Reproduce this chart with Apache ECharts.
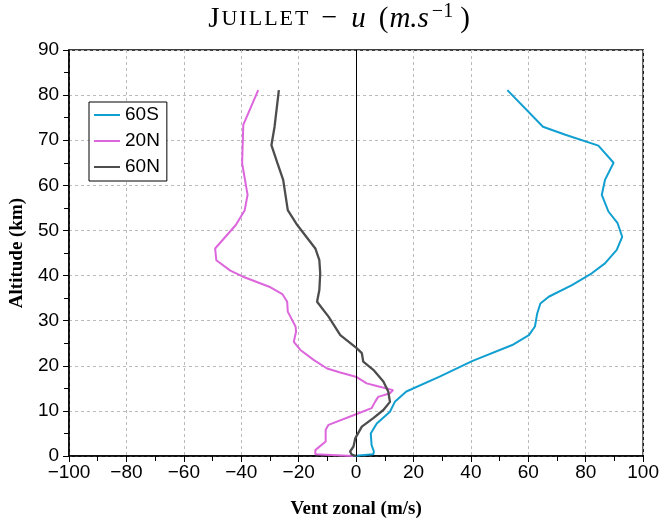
<!DOCTYPE html>
<html>
<head>
<meta charset="utf-8">
<script src="https://cdn.jsdelivr.net/npm/echarts@6/dist/echarts.min.js"></script>
<style>html,body{margin:0;padding:0;background:#fff;}#c{width:662px;height:524px;}</style>
</head>
<body>
<div id="c"></div>
<script>
// Series names
const seriesNames = ['60S', '20N', '60N'];
// 60S: altitude (km) and zonal wind (m/s)
const alt60S = [0, 0.4, 1.0, 2.4, 5.0, 7.2, 9.8, 12.0, 14.3, 17.6, 21.1, 24.6, 26.8, 28.7, 31.6, 33.8, 35.3, 37.9, 40.5, 42.7, 45.7, 48.6, 51.6, 54.2, 57.9, 61.2, 65.0, 68.8, 71.2, 73.0, 81.1];
const u60S   = [-1, 6.0, 6.2, 5.4, 5.1, 7.2, 11.8, 13.5, 17.5, 29.1, 40.6, 54.4, 60.2, 62.3, 63.1, 64.2, 67.1, 75.2, 82.1, 86.7, 90.8, 92.7, 91.1, 87.9, 85.6, 86.7, 89.7, 84.4, 72.9, 65.1, 52.7];
// 20N
const alt20N = [0, 0.4, 1.3, 3.2, 5.8, 6.9, 9.3, 10.6, 12.0, 13.1, 13.9, 14.6, 15.5, 16.1, 17.5, 18.5, 19.4, 21.3, 23.5, 25.3, 27.6, 28.7, 32.0, 34.2, 35.9, 37.4, 39.8, 41.1, 43.4, 46.0, 51.2, 54.5, 57.9, 64.9, 73.4, 81.1];
const u20N   = [-1, -14.2, -14.2, -10.6, -10.6, -9.6, 0.2, 5.4, 6.6, 7.7, 11.8, 12.9, 7.2, 3.7, 0.2, -5.5, -10.1, -14.8, -19.4, -21.7, -20.9, -21.1, -23.8, -24.0, -25.7, -29.8, -39.6, -43.8, -48.7, -49.1, -41.9, -38.8, -37.8, -39.7, -39.3, -34.1];
// 60N
const alt60N = [0, 0.3, 1.0, 2.1, 3.9, 6.5, 8.4, 10.2, 12.0, 14.3, 16.5, 19.1, 20.9, 22.8, 23.9, 26.8, 30.9, 34.2, 36.8, 40.5, 43.4, 46.0, 51.2, 54.5, 61.2, 64.9, 68.9, 73.0, 81.1];
const u60N   = [0, -1.5, -2.1, -0.9, -0.3, 2.0, 6.0, 9.5, 11.8, 11.2, 9.5, 6.0, 2.5, 2.0, 0.2, -5.5, -9.6, -13.6, -12.8, -12.5, -12.8, -14.2, -20.5, -23.8, -25.4, -27.4, -29.5, -28.4, -26.9];
// Axis ticks
const xTicks = {min: -100, max: 100, interval: 20};
const yTicks = {min: 0, max: 90, interval: 10};

const colors = ['#119fd1', '#dd66dd', '#4d4d4d'];
const pairs = (xs, ys) => xs.map((x, i) => [x, ys[i]]);
const dataSets = [pairs(u60S, alt60S), pairs(u20N, alt20N), pairs(u60N, alt60N)];

const minus = v => String(v).replace('-', '\u2212');
const chart = echarts.init(document.getElementById('c'), null, {renderer: 'canvas'});
const serif = 'Liberation Serif';
const sans = 'Liberation Sans';
const tf = {fontFamily: serif, color: '#000', fontWeight: 'normal'};

const titleText = '{a|J}' + 'UILLET'.split('').map((ch, k) => (k < 5 ? '{b|' : '{bl|') + ch + '}').join('') +
  '{mi|\u2212}{u|u}{c|(}{ms|m.s}{sup|\u22121}{c|)}';

chart.setOption({
  animation: false,
  backgroundColor: '#fff',
  title: {
    left: 334, top: -3, textAlign: 'center',
    text: titleText,
    textStyle: {
      fontWeight: 'normal',
      rich: {
        a: Object.assign({fontSize: 29, padding: [0, 2, 0, 0]}, tf),
        b: Object.assign({fontSize: 22, padding: [0, 2, 0, 0]}, tf),
        bl: Object.assign({fontSize: 22}, tf),
        mi: Object.assign({fontSize: 28, padding: [0, 14, 0, 13]}, tf),
        c: Object.assign({fontSize: 29}, tf),
        u: Object.assign({fontSize: 29, fontStyle: 'italic', padding: [0, 13, 0, 0]}, tf),
        ms: Object.assign({fontSize: 29, fontStyle: 'italic', padding: [0, 3, 0, 1]}, tf),
        sup: Object.assign({fontSize: 20, verticalAlign: 'top', padding: [0, 7, 14, 0]}, tf)
      }
    }
  },
  legend: {
    left: 89, top: 102, orient: 'vertical',
    data: seriesNames.map(n => ({name: n, icon: 'rect'})),
    itemWidth: 26, itemHeight: 2, itemGap: 6,
    padding: [3, 7, 4, 5],
    borderColor: '#000', borderWidth: 1, backgroundColor: '#fff',
    textStyle: {fontFamily: sans, fontSize: 19, color: '#000', lineHeight: 20}
  },
  grid: {left: 67, right: 15, top: 50, bottom: 68, show: true, borderColor: '#000', borderWidth: 1.5, containLabel: false},
  xAxis: {
    type: 'value', min: xTicks.min, max: xTicks.max, interval: xTicks.interval,
    name: 'Vent zonal (m/s)', nameLocation: 'middle', nameGap: 44,
    nameTextStyle: {fontFamily: serif, fontWeight: 'bold', fontSize: 19, color: '#000'},
    axisLine: {show: true, onZero: false, lineStyle: {color: '#000', width: 1.5}},
    axisTick: {show: true, inside: false, length: 6, lineStyle: {color: '#000', width: 1}},
    minorTick: {show: true, splitNumber: 2, length: 5, lineStyle: {color: '#000', width: 1}},
    axisLabel: {formatter: minus, fontFamily: sans, fontSize: 19, color: '#000', margin: 7},
    splitLine: {show: true, lineStyle: {color: '#bbbbbb', type: [3, 3], width: 1}}
  },
  yAxis: {
    type: 'value', min: yTicks.min, max: yTicks.max, interval: yTicks.interval,
    name: 'Altitude (km)', nameLocation: 'middle', nameGap: 37, nameRotate: 90,
    nameTextStyle: {fontFamily: serif, fontWeight: 'bold', fontSize: 19, color: '#000'},
    axisLine: {show: true, onZero: false, lineStyle: {color: '#000', width: 1.5}},
    axisTick: {show: true, inside: false, length: 6, lineStyle: {color: '#000', width: 1}},
    minorTick: {show: true, splitNumber: 2, length: 5, lineStyle: {color: '#000', width: 1}},
    axisLabel: {fontFamily: sans, fontSize: 19, color: '#000', margin: 10},
    splitLine: {show: true, lineStyle: {color: '#bbbbbb', type: [3, 3], width: 1}}
  },
  series: seriesNames.map((n, i) => ({
    name: n, type: 'line', data: dataSets[i], symbol: 'none', showSymbol: false,
    smooth: false, clip: true, z: 3 + i,
    lineStyle: {color: colors[i], width: i === 2 ? 2.3 : 2},
    itemStyle: {color: colors[i]},
    markLine: i === 0 ? {
      silent: true, symbol: 'none', label: {show: false},
      lineStyle: {color: '#000', width: 1, type: 'solid'},
      data: [{xAxis: 0}]
    } : undefined
  }))
});
</script>
</body>
</html>
